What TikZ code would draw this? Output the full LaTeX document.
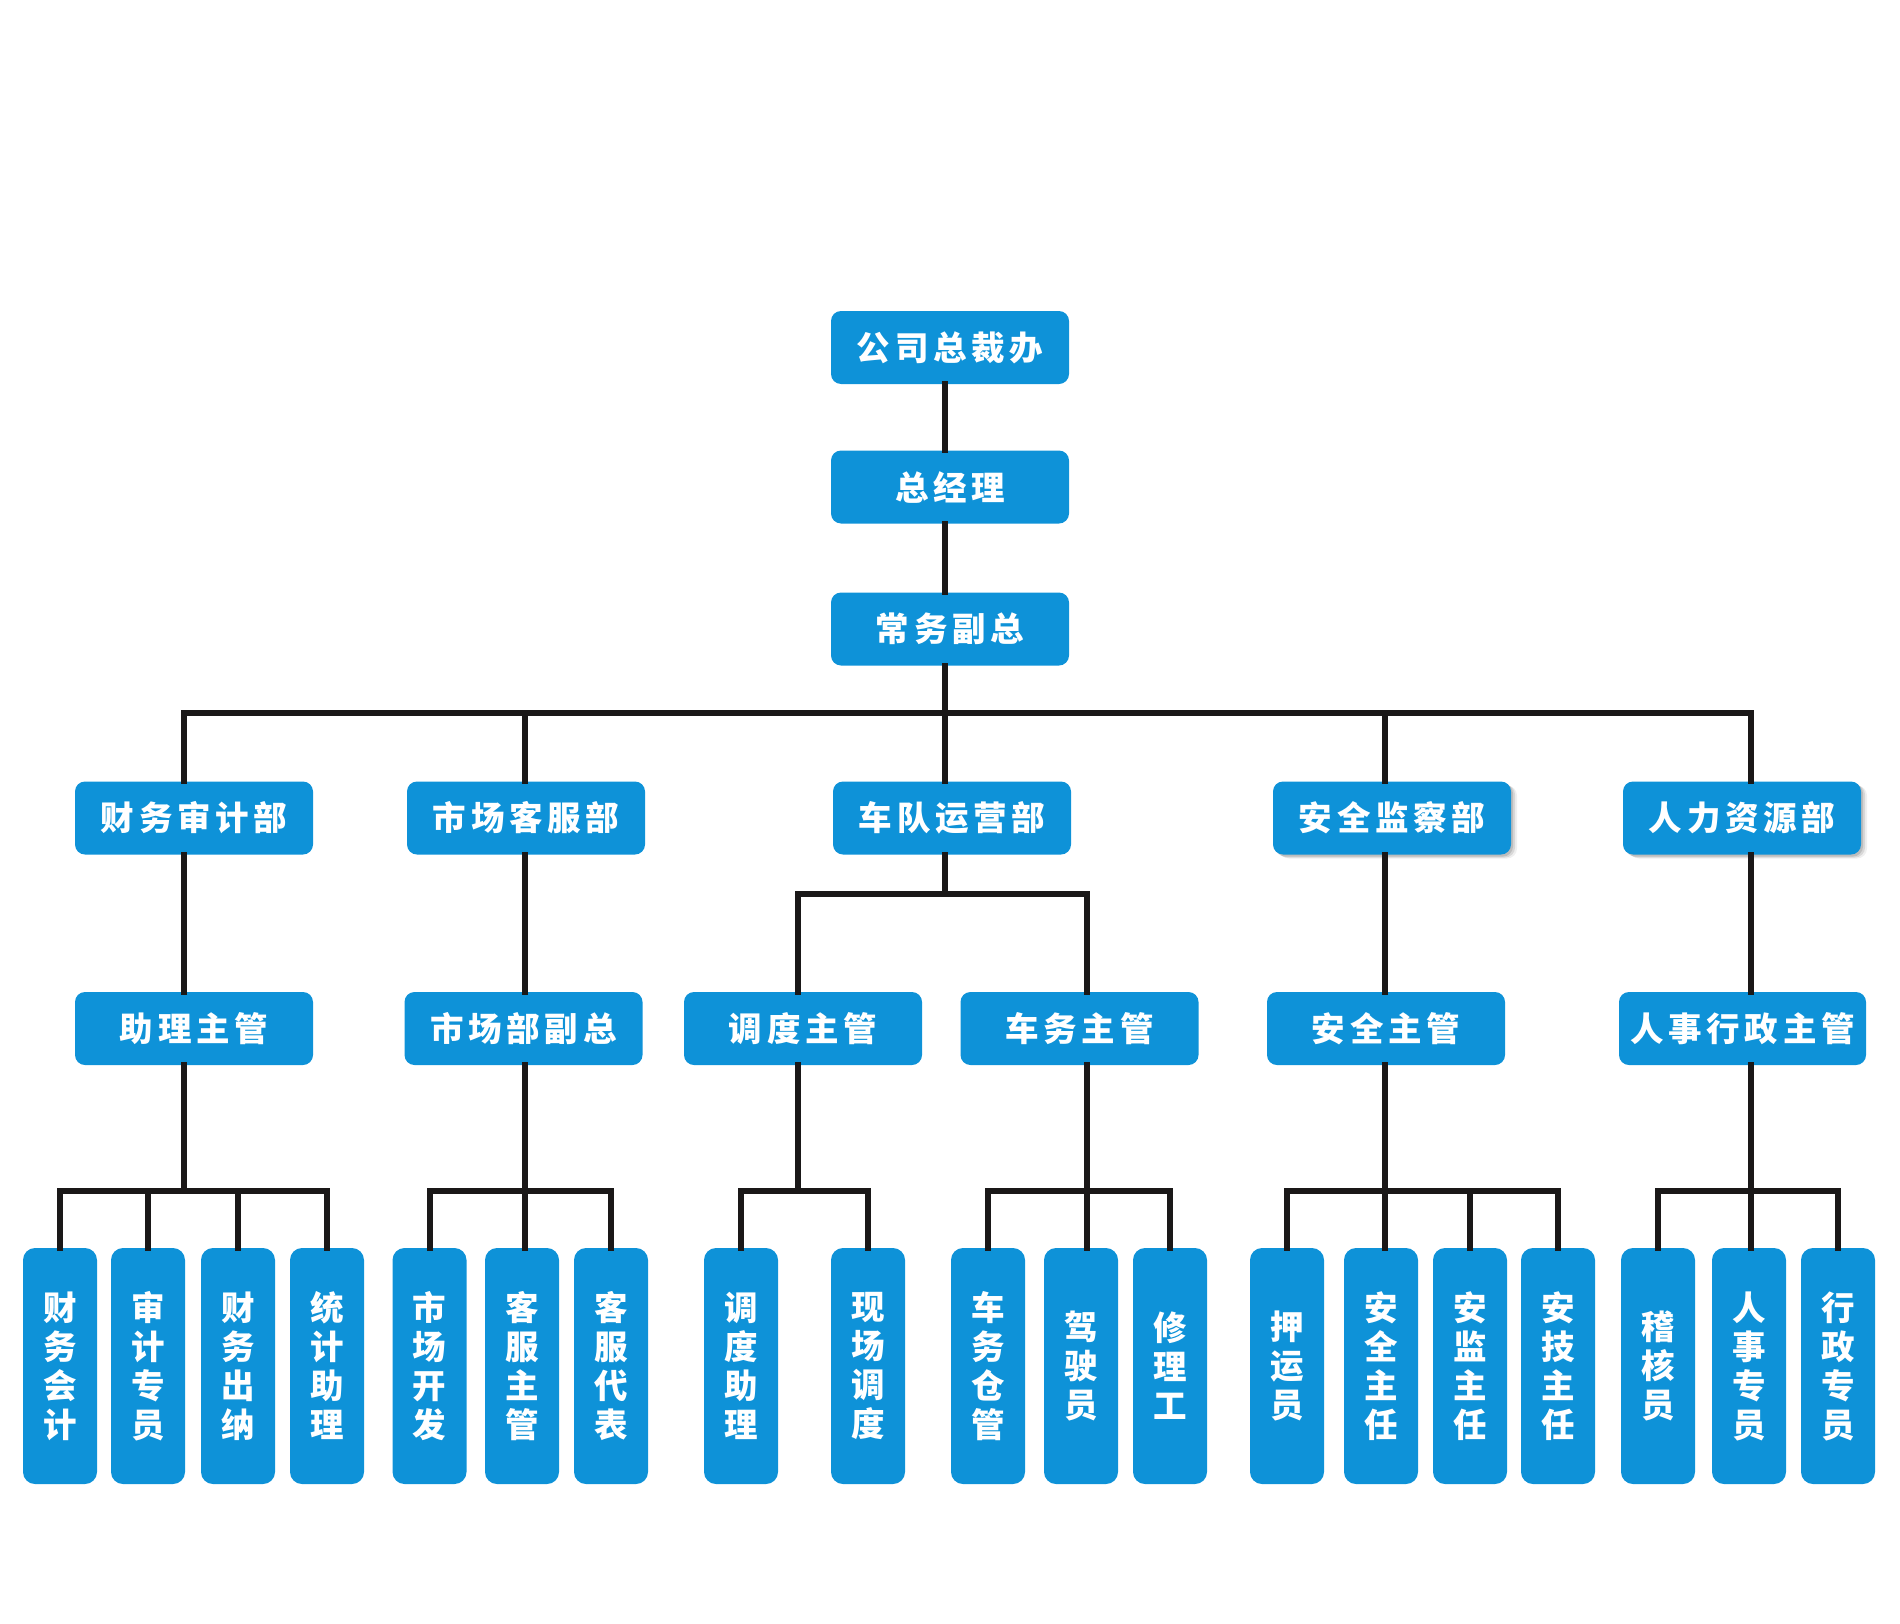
\documentclass[tikz,border=0pt]{standalone}
\usepackage{fontspec}
\newfontfamily\cjkh[LetterSpace=14]{Noto Sans CJK SC}
\newfontfamily\cjkv{Noto Sans CJK SC}
\usetikzlibrary{shadows}
\definecolor{boxblue}{RGB}{14,146,216}
\definecolor{linecol}{RGB}{26,24,24}
\begin{document}
\begin{tikzpicture}[x=1pt,y=-1pt,
  hbox/.style={rectangle,rounded corners=10pt,fill=boxblue,text=white,
    minimum width=238pt,minimum height=73pt,inner sep=0pt,
    font={\cjkh\bfseries\fontsize{33.5}{36}\selectfont}},
  vbox/.style={rectangle,rounded corners=12pt,fill=boxblue,text=white,
    minimum width=74pt,minimum height=236pt,inner sep=0pt,align=center,
    font={\cjkv\bfseries\fontsize{33.5}{39}\selectfont}},
  shad/.style={drop shadow={shadow xshift=2pt,shadow yshift=-2pt,opacity=0.12,fill=black},
    drop shadow={shadow xshift=4pt,shadow yshift=-3pt,opacity=0.10,fill=black},
    drop shadow={shadow xshift=6pt,shadow yshift=-4pt,opacity=0.06,fill=black}},
  conn/.style={draw=linecol,line width=6pt,line join=miter,line cap=rect}]
\useasboundingbox (0,0) rectangle (1900,1624);
% line x positions and bus y positions
\coordinate (trunk) at (945,0);
\coordinate (L1) at (184,0);
\coordinate (L2) at (525,0);
\coordinate (L3) at (945,0);
\coordinate (L4) at (1385,0);
\coordinate (L5) at (1751,0);
\coordinate (L3a) at (798,0);
\coordinate (L3b) at (1087,0);
\coordinate (busM) at (0,712.5);
\coordinate (busS) at (0,894);
\coordinate (busB) at (0,1191);
% top
\node[hbox] (top1) at (950,347.5) {公司总裁办};
\node[hbox] (top2) at (950,487) {总经理};
\node[hbox] (top3) at (950,629) {常务副总};
% departments
\node[hbox] (d1) at (194,818) {财务审计部};
\node[hbox] (d2) at (526,818) {市场客服部};
\node[hbox] (d3) at (952,818) {车队运营部};
\node[hbox,shad] (d4) at (1392,818) {安全监察部};
\node[hbox,shad] (d5) at (1742,818) {人力资源部};
% managers
\node[hbox] (m1) at (194,1028.5) {助理主管};
\node[hbox] (m2) at (523.5,1028.5) {市场部副总};
\node[hbox] (m3a) at (803,1028.5) {调度主管};
\node[hbox] (m3b) at (1079.5,1028.5) {车务主管};
\node[hbox] (m4) at (1386,1028.5) {安全主管};
\node[hbox,minimum width=247pt] (m5) at (1742.5,1028.5) {人事行政主管};
% staff
\node[vbox] (b1) at (60,1366) {财\\务\\会\\计};
\node[vbox] (b2) at (148,1366) {审\\计\\专\\员};
\node[vbox] (b3) at (238,1366) {财\\务\\出\\纳};
\node[vbox] (b4) at (327,1366) {统\\计\\助\\理};
\node[vbox] (b5) at (429.5,1366) {市\\场\\开\\发};
\node[vbox] (b6) at (522,1366) {客\\服\\主\\管};
\node[vbox] (b7) at (611,1366) {客\\服\\代\\表};
\node[vbox] (b8) at (741,1366) {调\\度\\助\\理};
\node[vbox] (b9) at (868,1366) {现\\场\\调\\度};
\node[vbox] (b10) at (988,1366) {车\\务\\仓\\管};
\node[vbox] (b11) at (1081,1366) {驾\\驶\\员};
\node[vbox] (b12) at (1170,1366) {修\\理\\工};
\node[vbox] (b13) at (1287,1366) {押\\运\\员};
\node[vbox] (b14) at (1381,1366) {安\\全\\主\\任};
\node[vbox] (b15) at (1470,1366) {安\\监\\主\\任};
\node[vbox] (b16) at (1558,1366) {安\\技\\主\\任};
\node[vbox] (b17) at (1658,1366) {稽\\核\\员};
\node[vbox] (b18) at (1749,1366) {人\\事\\专\\员};
\node[vbox] (b19) at (1838,1366) {行\\政\\专\\员};
% connectors: top chain
\draw[conn] (top1.south -| trunk) -- (top2.north -| trunk);
\draw[conn] (top2.south -| trunk) -- (top3.north -| trunk);
\draw[conn] (top3.south -| trunk) -- (d3.north -| L3);
% main bus
\draw[conn] (d1.north -| L1) -- (L1 |- busM) -- (L5 |- busM) -- (d5.north -| L5);
\draw[conn] (L2 |- busM) -- (d2.north -| L2);
\draw[conn] (L4 |- busM) -- (d4.north -| L4);
% departments to managers
\draw[conn] (d1.south -| L1) -- (m1.north -| L1);
\draw[conn] (d2.south -| L2) -- (m2.north -| L2);
\draw[conn] (d4.south -| L4) -- (m4.north -| L4);
\draw[conn] (d5.south -| L5) -- (m5.north -| L5);
\draw[conn] (d3.south -| L3) -- (L3 |- busS);
\draw[conn] (m3a.north -| L3a) -- (L3a |- busS) -- (L3b |- busS) -- (m3b.north -| L3b);
% group 1
\draw[conn] (m1.south -| L1) -- (L1 |- busB);
\draw[conn] (b1.north) -- (b1.north |- busB) -- (b4.north |- busB) -- (b4.north);
\draw[conn] (b2.north) -- (b2.north |- busB);
\draw[conn] (b3.north) -- (b3.north |- busB);
% group 2
\draw[conn] (m2.south -| L2) -- (b6.north -| L2);
\draw[conn] (b5.north) -- (b5.north |- busB) -- (b7.north |- busB) -- (b7.north);
% group 3
\draw[conn] (m3a.south -| L3a) -- (L3a |- busB);
\draw[conn] (b8.north) -- (b8.north |- busB) -- (b9.north |- busB) -- (b9.north);
% group 4
\draw[conn] (m3b.south -| L3b) -- (b11.north -| L3b);
\draw[conn] (b10.north) -- (b10.north |- busB) -- (b12.north |- busB) -- (b12.north);
% group 5
\draw[conn] (m4.south -| L4) -- (b14.north -| L4);
\draw[conn] (b13.north) -- (b13.north |- busB) -- (b16.north |- busB) -- (b16.north);
\draw[conn] (b15.north) -- (b15.north |- busB);
% group 6
\draw[conn] (m5.south -| L5) -- (b18.north -| L5);
\draw[conn] (b17.north) -- (b17.north |- busB) -- (b19.north |- busB) -- (b19.north);
\end{tikzpicture}
\end{document}
